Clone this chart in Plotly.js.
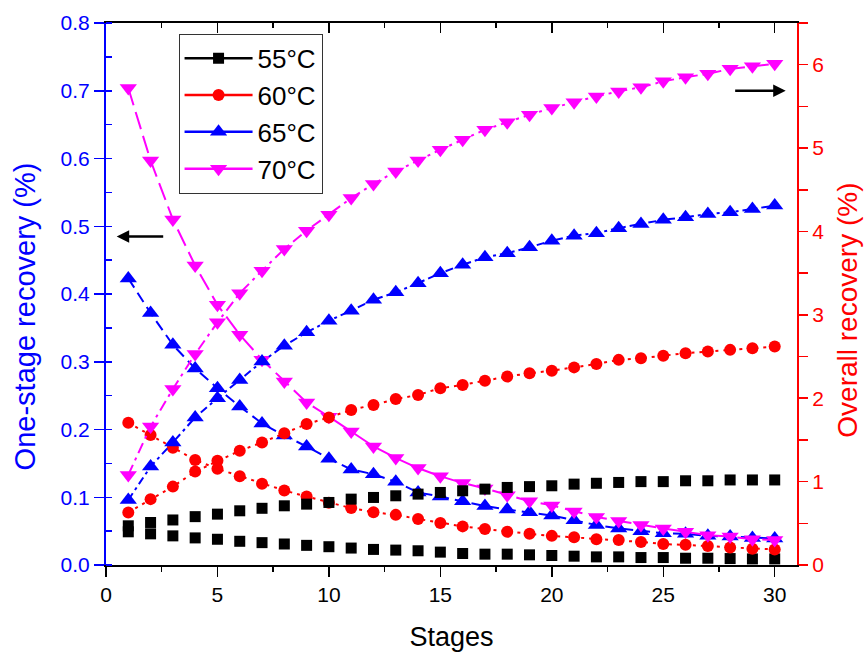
<!DOCTYPE html>
<html>
<head>
<meta charset="utf-8">
<script src="https://cdn.plot.ly/plotly-3.0.1.min.js"></script>
<style>
  html, body { margin: 0; padding: 0; background: #fff; }
  #chart { width: 866px; height: 655px; }
</style>
</head>
<body>
<div id="chart"></div>
<script>
// ---- data ----
const stages = [1,2,3,4,5,6,7,8,9,10,11,12,13,14,15,16,17,18,19,20,21,22,23,24,25,26,27,28,29,30];

const tempLabels = ['55°C', '60°C', '65°C', '70°C'];

// one-stage recovery (%), left axis
const oneStage55 = [0.049,0.046,0.043,0.040,0.038,0.035,0.033,0.031,0.029,0.027,0.025,0.023,0.022,0.021,0.019,0.017,0.016,0.016,0.015,0.014,0.013,0.012,0.012,0.011,0.011,0.010,0.010,0.0095,0.009,0.009];
const oneStage60 = [0.210,0.192,0.173,0.155,0.142,0.131,0.120,0.110,0.101,0.092,0.084,0.078,0.074,0.068,0.062,0.057,0.053,0.049,0.046,0.043,0.041,0.038,0.037,0.034,0.031,0.030,0.028,0.026,0.024,0.023];
const oneStage65 = [0.423,0.372,0.325,0.290,0.261,0.234,0.209,0.191,0.175,0.157,0.141,0.134,0.123,0.107,0.101,0.094,0.087,0.082,0.078,0.073,0.066,0.059,0.054,0.050,0.047,0.046,0.043,0.042,0.040,0.039];
const oneStage70 = [0.704,0.597,0.510,0.442,0.384,0.340,0.303,0.271,0.240,0.219,0.197,0.175,0.158,0.143,0.131,0.121,0.113,0.103,0.094,0.088,0.079,0.071,0.065,0.059,0.054,0.049,0.044,0.042,0.038,0.037];

// overall recovery (%), right axis
const overall55 = [0.47,0.51,0.54,0.58,0.61,0.65,0.68,0.71,0.73,0.75,0.79,0.81,0.83,0.85,0.87,0.89,0.91,0.93,0.94,0.95,0.97,0.98,0.99,1.00,1.00,1.01,1.01,1.02,1.02,1.02];
const overall60 = [0.63,0.79,0.94,1.12,1.25,1.37,1.47,1.58,1.69,1.77,1.86,1.92,1.99,2.04,2.12,2.16,2.21,2.26,2.30,2.33,2.37,2.41,2.46,2.48,2.51,2.54,2.56,2.58,2.60,2.62];
const overall65 = [0.78,1.18,1.47,1.77,2.00,2.22,2.44,2.63,2.79,2.93,3.05,3.18,3.27,3.38,3.50,3.60,3.69,3.74,3.81,3.89,3.95,3.98,4.04,4.09,4.14,4.17,4.21,4.23,4.27,4.31];
const overall70 = [1.08,1.66,2.11,2.53,2.91,3.26,3.53,3.79,4.01,4.20,4.40,4.57,4.72,4.85,4.98,5.10,5.22,5.31,5.40,5.48,5.55,5.62,5.68,5.73,5.80,5.85,5.89,5.95,5.98,6.01];

const xTitle = 'Stages';
const yLeftTitle = 'One-stage recovery (%)';
const yRightTitle = 'Overall recovery (%)';

// ---- styles ----
const colors  = ['#000000', '#FF0000', '#0000FF', '#FF00FF'];
const symbols = ['square', 'circle', 'triangle-up', 'triangle-down'];
const sizes   = [11, 12, 15, 15];
const modes   = ['markers', 'lines+markers', 'lines+markers', 'lines+markers'];
const oneDash = ['solid', '3px,5px', '11px,6px', '18px,7px'];
const allDash = ['solid', '3px,5px', '8px,4px,3px,4px', '11px,5px,3px,5px'];

const oneSeries = [oneStage55, oneStage60, oneStage65, oneStage70];
const allSeries = [overall55, overall60, overall65, overall70];

const traces = [];
for (let i = 0; i < 4; i++) {
  traces.push({
    type: 'scatter', mode: modes[i], x: stages, y: oneSeries[i],
    xaxis: 'x', yaxis: 'y', showlegend: false, name: tempLabels[i],
    line: {color: colors[i], width: 2, dash: oneDash[i]},
    marker: {symbol: symbols[i], size: sizes[i], color: colors[i]}
  });
}
for (let i = 0; i < 4; i++) {
  traces.push({
    type: 'scatter', mode: modes[i], x: stages, y: allSeries[i],
    xaxis: 'x', yaxis: 'y2', showlegend: false, name: tempLabels[i],
    line: {color: colors[i], width: 2, dash: allDash[i]},
    marker: {symbol: symbols[i], size: sizes[i], color: colors[i]}
  });
}
// legend entries (solid line + marker), carried by the top axis
for (let i = 0; i < 4; i++) {
  traces.push({
    type: 'scatter', mode: 'lines+markers', x: [null], y: [null],
    xaxis: 'x2', yaxis: 'y', showlegend: true, name: tempLabels[i],
    line: {color: colors[i], width: 2.5},
    marker: {symbol: symbols[i], size: sizes[i], color: colors[i]}
  });
}

const FONT = 'Arial, "Liberation Sans", sans-serif';

const layout = {
  width: 866, height: 655,
  margin: {l: 106, r: 69, t: 23, b: 90},
  paper_bgcolor: '#ffffff', plot_bgcolor: '#ffffff',
  font: {family: FONT, size: 21, color: '#000'},
  showlegend: true,
  legend: {
    x: 0.105, y: 0.98, xanchor: 'left', yanchor: 'top',
    bgcolor: '#ffffff', bordercolor: '#333333', borderwidth: 1,
    font: {family: FONT, size: 26, color: '#000'},
    itemwidth: 68, tracegroupgap: 0
  },
  xaxis: {
    range: [0, 31], tick0: 0, dtick: 5,
    ticks: 'outside', ticklen: 10, tickwidth: 1.5, tickcolor: '#000',
    minor: {dtick: 2.5, ticks: 'outside', ticklen: 5, tickwidth: 1.5, tickcolor: '#000', showgrid: false},
    showline: true, linecolor: '#000', linewidth: 2,
    showgrid: false, zeroline: false,
    tickfont: {family: FONT, size: 21, color: '#000'},
    title: {text: xTitle, font: {family: FONT, size: 27, color: '#000'}, standoff: 22}
  },
  xaxis2: {
    overlaying: 'x', side: 'top', range: [0, 31], tick0: 0, dtick: 5,
    ticks: 'inside', ticklen: 10, tickwidth: 1.5, tickcolor: '#000',
    minor: {dtick: 2.5, ticks: 'inside', ticklen: 5, tickwidth: 1.5, tickcolor: '#000', showgrid: false},
    showticklabels: false,
    showline: true, linecolor: '#000', linewidth: 2,
    showgrid: false, zeroline: false
  },
  yaxis: {
    range: [0, 0.8], tick0: 0, dtick: 0.1, tickformat: '.1f',
    ticks: 'outside', ticklen: 10, tickwidth: 1.5, tickcolor: '#0000FF',
    minor: {dtick: 0.05, ticks: 'inside', ticklen: 6, tickwidth: 1.5, tickcolor: '#0000FF', showgrid: false},
    showline: true, linecolor: '#0000FF', linewidth: 2,
    showgrid: false, zeroline: false,
    tickfont: {family: FONT, size: 21, color: '#0000FF'}
  },
  yaxis2: {
    overlaying: 'y', side: 'right', range: [0, 6.5], tick0: 0, dtick: 1,
    ticks: 'outside', ticklen: 9, tickwidth: 1.5, tickcolor: '#FF0000',
    minor: {dtick: 0.5, ticks: 'outside', ticklen: 9, tickwidth: 1.5, tickcolor: '#FF0000', showgrid: false},
    showline: true, linecolor: '#FF0000', linewidth: 2,
    showgrid: false, zeroline: false,
    tickfont: {family: FONT, size: 21, color: '#FF0000'}
  },
  annotations: [
    {xref: 'paper', yref: 'paper', x: -0.117, y: 0.459, xanchor: 'center', yanchor: 'middle',
     text: yLeftTitle, textangle: -90, showarrow: false,
     font: {family: FONT, size: 29, color: '#0000FF'}},
    {xref: 'paper', yref: 'paper', x: 1.073, y: 0.470, xanchor: 'center', yanchor: 'middle',
     text: yRightTitle, textangle: -90, showarrow: false,
     font: {family: FONT, size: 28, color: '#FF0000'}},
    {xref: 'paper', yref: 'paper', x: 0.0155, y: 0.606, ax: 48, ay: 0,
     text: '', showarrow: true, arrowhead: 2, arrowsize: 1, arrowwidth: 2.5, arrowcolor: '#000'},
    {xref: 'paper', yref: 'paper', x: 0.9836, y: 0.875, ax: -52, ay: 0,
     text: '', showarrow: true, arrowhead: 2, arrowsize: 1, arrowwidth: 2.5, arrowcolor: '#000'}
  ]
};

Plotly.newPlot('chart', traces, layout, {displayModeBar: false, staticPlot: true});
</script>
</body>
</html>
